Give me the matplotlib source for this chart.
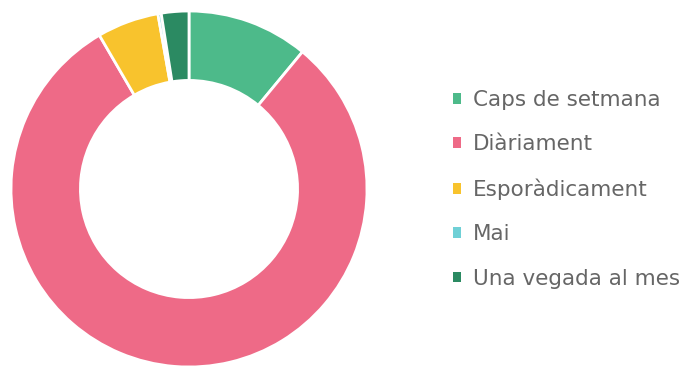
import matplotlib.pyplot as plt

labels = ["Caps de setmana", "Diàriament", "Esporàdicament", "Mai", "Una vegada al mes"]
shares = [11.0, 80.6, 5.6, 0.3, 2.5]
colors = ["#4dba8a", "#ee6a87", "#f8c32d", "#6fd0d6", "#2b8a62"]

plt.rcParams["font.family"] = ["DejaVu Sans"]

fig = plt.figure(figsize=(6.91, 3.67), dpi=100)

# donut centred at (189, 189) px, outer radius 178 px
cx, cy, r = 189, 189, 178
W, H = 691, 367
ax = fig.add_axes([(cx - r) / W, (H - cy - r) / H, 2 * r / W, 2 * r / H])

wedges, _ = ax.pie(
    shares,
    colors=colors,
    startangle=90,
    counterclock=False,
    radius=1.0,
    wedgeprops=dict(width=0.39, edgecolor="white", linewidth=2),
)
ax.set_xlim(-1, 1)
ax.set_ylim(-1, 1)
ax.set_aspect("equal")
ax.axis("off")

leg = fig.legend(
    wedges,
    labels,
    loc="upper left",
    bbox_to_anchor=(453 / W, 1 - 90 / H),
    borderpad=0,
    borderaxespad=0,
    frameon=False,
    fontsize=15.5,
    handlelength=0.38,
    handleheight=0.38,
    handletextpad=0.55,
    labelspacing=1.13,
    labelcolor="#666666",
)
for h in leg.legend_handles:
    h.set_linewidth(0)

fig.savefig("out.png", dpi=100)
